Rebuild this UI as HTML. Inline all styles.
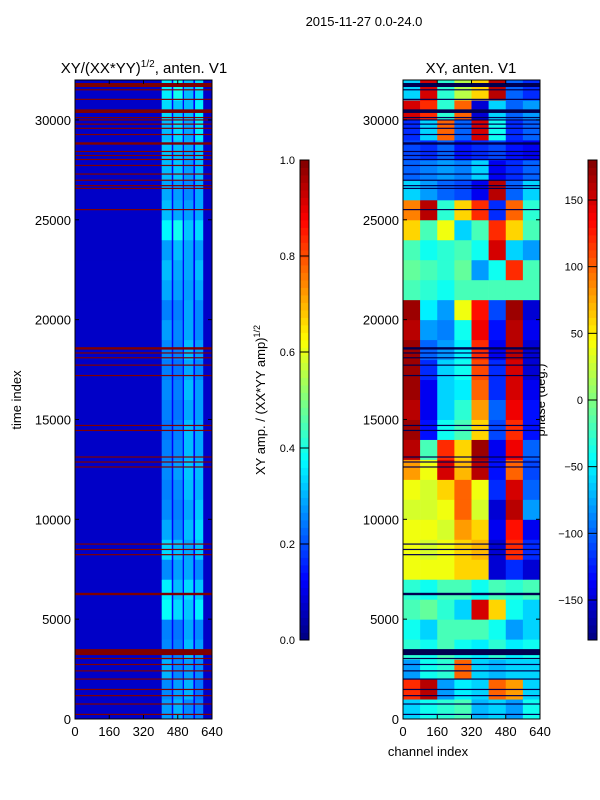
<!DOCTYPE html>
<html><head><meta charset="utf-8"><style>
body{margin:0;background:#fff;}
svg{display:block;font-family:"Liberation Sans","DejaVu Sans",sans-serif;}
</style></head><body>
<svg id="fig" width="600" height="800" viewBox="0 0 600 800">
<rect width="600" height="800" fill="#fff"/>
<text x="364" y="26" font-size="13" text-anchor="middle">2015-11-27 0.0-24.0</text>
<text x="144" y="73" font-size="15" text-anchor="middle">XY/(XX*YY)<tspan font-size="10" dy="-6">1/2</tspan><tspan dy="6">, anten. V1</tspan></text>
<text x="471" y="73" font-size="15" text-anchor="middle">XY, anten. V1</text>
<text transform="translate(21,400) rotate(-90)" font-size="13" text-anchor="middle">time index</text>
<text transform="translate(265,400) rotate(-90)" font-size="13" text-anchor="middle">XY amp. / (XX*YY amp)<tspan font-size="9" dy="-5">1/2</tspan></text>
<text transform="translate(545,400) rotate(-90)" font-size="13" text-anchor="middle">phase (deg.)</text>
<text x="428" y="756" font-size="13" text-anchor="middle">channel index</text>
<g id="L"></g>
<g id="R"></g>
<g id="axes"></g>
</svg>
<script>
// ---- data ----
const timeRowStarts = [0,1000,2000,3000,4000,5000,6000,7000,8000,9000,10000,11000,12000,13000,14000,15000,16000,17000,18000,19000,20000,21000,22000,23000,24000,25000,26000,27000,28000,29000,30000,31000];
const ampChannelEdges = [0,405,452,459,503,509,553,561,599,640];
// column kind: -1 base, -2 gap, 0..3 stripe index
const ampColumnKind = [-1,0,-2,1,-2,2,-2,3,-1];
const ampBase = 0.07;
const ampGap = 0.12;
// per row (bottom -> top): amplitudes of the 4 bright stripes
const ampStripes = [
[0.28,0.30,0.26,0.25],[0.26,0.28,0.30,0.24],[0.30,0.26,0.28,0.26],[0.26,0.25,0.31,0.28],
[0.25,0.24,0.29,0.26],[0.38,0.34,0.32,0.36],[0.36,0.31,0.34,0.32],[0.26,0.28,0.29,0.26],
[0.34,0.31,0.29,0.32],[0.29,0.26,0.31,0.34],[0.26,0.25,0.29,0.32],[0.25,0.26,0.31,0.30],
[0.26,0.28,0.32,0.31],[0.25,0.26,0.31,0.29],[0.24,0.25,0.31,0.29],[0.25,0.24,0.29,0.28],
[0.26,0.25,0.31,0.28],[0.25,0.24,0.29,0.26],[0.26,0.25,0.31,0.28],[0.28,0.26,0.29,0.26],
[0.25,0.25,0.29,0.26],[0.29,0.28,0.28,0.29],[0.31,0.29,0.29,0.31],[0.28,0.31,0.29,0.28],
[0.37,0.39,0.32,0.34],[0.31,0.29,0.28,0.29],[0.29,0.28,0.26,0.29],[0.31,0.32,0.28,0.31],
[0.32,0.31,0.29,0.32],[0.31,0.34,0.29,0.36],[0.34,0.32,0.31,0.36],[0.36,0.39,0.31,0.34]];
// flagged time ranges (start,width)
const flagStarts = [200,720,1140,1450,1970,2380,2700,3000,3200,6200,8200,8460,8730,12590,12840,13090,14420,14670,17170,17690,18060,18300,18500,25480,26540,26680,26950,27260,27690,27990,28190,28390,28760,29240,29550,29760,29970,30090,30350,31000,31480,31650];
const flagWidths = [60,60,60,60,60,60,60,60,300,120,60,60,60,60,60,60,60,60,60,60,60,60,120,60,60,60,60,60,60,60,60,60,120,60,60,60,60,60,180,60,60,200];
const phaseChannelEdges = [0,80,160,240,320,400,480,560,640];
const phaseValues = [
[-60,-40,-30,-20,-70,-60,-80,-40],[120,160,-80,-50,-60,100,80,-60],[-80,-40,-30,100,-60,-70,-60,-60],[-30,-40,-20,-40,-50,-30,-50,-40],
[-40,-60,-20,-20,-20,-40,-80,-60],[-20,-10,-30,-60,150,60,-40,-60],[-30,-40,-20,-20,-40,-20,-30,-20],[40,40,40,60,60,-150,-120,-150],
[40,30,40,60,70,-150,120,-120],[40,40,30,80,60,-140,130,-140],[30,30,40,100,30,-150,160,-80],[40,30,60,100,40,-120,150,-100],
[80,40,150,70,160,-130,100,-110],[160,-20,120,60,170,-140,140,-100],[170,-130,-40,-20,60,-110,120,-130],[160,-140,-60,-30,80,-100,140,-130],
[170,-140,-60,-50,100,-120,150,-140],[170,-120,-60,-40,110,-120,150,-150],[170,-100,-80,-50,120,-140,160,-150],[160,-80,-90,-40,140,-130,160,-140],
[170,-50,-80,40,130,-110,170,-150],[-20,-30,-40,-20,-20,-20,-20,-20],[-10,-20,-30,-10,-80,-40,120,-20],[-20,-40,-30,-20,-40,150,-60,-80],
[60,-20,40,-60,-20,120,60,-20],[90,160,-30,60,120,-120,100,-30],[-60,-80,-100,-110,-140,160,-100,-60],[-100,-90,-80,-90,-60,-140,-120,-100],
[-110,-120,-100,-130,-120,-110,-130,-140],[-120,-60,100,-100,150,-40,-120,-100],[150,120,-30,100,-150,-60,-100,-80],[-60,150,-30,20,60,160,-100,-120]];
const timeTicks = [0,5000,10000,15000,20000,25000,30000];
const chanTicks = [0,160,320,480,640];
const ampTicks = [0.0,0.2,0.4,0.6,0.8,1.0];
const ampTickLabels = ["0.0","0.2","0.4","0.6","0.8","1.0"];
const phaseTicks = [-150,-100,-50,0,50,100,150];
const phaseTickLabels = ["\u2212150","\u2212100","\u221250","0","50","100","150"];

// ---- helpers ----
const NS="http://www.w3.org/2000/svg";
function jet(v){v=Math.max(0,Math.min(1,v));
 const r=Math.max(0,Math.min(1,1.5-Math.abs(4*v-3))),g=Math.max(0,Math.min(1,1.5-Math.abs(4*v-2))),b=Math.max(0,Math.min(1,1.5-Math.abs(4*v-1)));
 return `rgb(${Math.round(r*255)},${Math.round(g*255)},${Math.round(b*255)})`;}
function mk(tag,attrs,parent){const e=document.createElementNS(NS,tag);for(const k in attrs)e.setAttribute(k,attrs[k]);parent.appendChild(e);return e;}
const T0=719,T1=80;
const yT=t=>T0-(t/32000)*(T0-T1);
const xL=c=>75+c/640*137, xR=c=>403+c/640*137;
const L=document.getElementById('L'),R=document.getElementById('R'),A=document.getElementById('axes');

timeRowStarts.forEach((t,i)=>{
 for(let j=0;j<ampChannelEdges.length-1;j++){
  const k=ampColumnKind[j];
  const v = k===-1 ? ampBase : (k===-2 ? ampGap : ampStripes[i][k]);
  const r=mk('rect',{x:xL(ampChannelEdges[j]),y:yT(t+1000),width:xL(ampChannelEdges[j+1])-xL(ampChannelEdges[j])+0.3,height:yT(t)-yT(t+1000)+0.5,fill:jet(v)},L);
  
  
 }
 for(let j=0;j<phaseChannelEdges.length-1;j++){
  const v=(phaseValues[i][j]+180)/360;
  const r=mk('rect',{x:xR(phaseChannelEdges[j]),y:yT(t+1000),width:xR(phaseChannelEdges[j+1])-xR(phaseChannelEdges[j])+0.3,height:yT(t)-yT(t+1000)+0.5,fill:jet(v)},R);
  
  
 }
});
flagStarts.forEach((t,i)=>{
 const h=Math.max(1.2,yT(t)-yT(t+flagWidths[i]));
 const a=mk('rect',{x:75,y:yT(t+flagWidths[i]),width:137,height:h,fill:'#800000'},L);
 
 
 const b=mk('rect',{x:403,y:yT(t+flagWidths[i]),width:137,height:h,fill:'#000050'},R);
 
 
});

function axesBox(x0,xf,name){
 const fr=mk('rect',{x:x0,y:T1,width:137,height:T0-T1,fill:'none',stroke:'#000','stroke-width':1},A);
 
 
 timeTicks.forEach(t=>{
  const y=yT(t);
  mk('line',{x1:x0,x2:x0+4,y1:y,y2:y,stroke:'#000'},A);mk('line',{x1:x0+133,x2:x0+137,y1:y,y2:y,stroke:'#000'},A);
  const tx=mk('text',{x:x0-4,y:y+5,'font-size':13,'text-anchor':'end'},A);tx.textContent=t;
  
  
 });
 chanTicks.forEach(c=>{
  const x=xf(c);
  mk('line',{x1:x,x2:x,y1:T0,y2:T0-4,stroke:'#000'},A);mk('line',{x1:x,x2:x,y1:T1,y2:T1+4,stroke:'#000'},A);
  const tx=mk('text',{x:x,y:T0+17,'font-size':13,'text-anchor':'middle'},A);tx.textContent=c;
  
  
 });
}
axesBox(75,xL,'amp-axes');axesBox(403,xR,'phase-axes');

function cbar(x,vmin,vmax,ticks,labels,name){
 const y0=640,y1=160,n=64;
 for(let k=0;k<n;k++){
  const r=mk('rect',{x:x,y:y0-(k+1)*(y0-y1)/n,width:9,height:(y0-y1)/n+0.4,fill:jet((k+0.5)/n)},A);
  
  
 }
 const fr=mk('rect',{x:x,y:y1,width:9,height:y0-y1,fill:'none',stroke:'#000'},A);
 
 
 ticks.forEach((v,i)=>{
  const y=y0-(v-vmin)/(vmax-vmin)*(y0-y1);
  mk('line',{x1:x,x2:x+9,y1:y,y2:y,stroke:'#000'},A);
  const tx=mk('text',{x:x-5,y:y+4,'font-size':11,'text-anchor':'end'},A);tx.textContent=labels[i];
  
  
 });
}
cbar(300,0,1,ampTicks,ampTickLabels,'amp-colorbar');
cbar(588,-180,180,phaseTicks,phaseTickLabels,'phase-colorbar');
</script>
</body></html>
